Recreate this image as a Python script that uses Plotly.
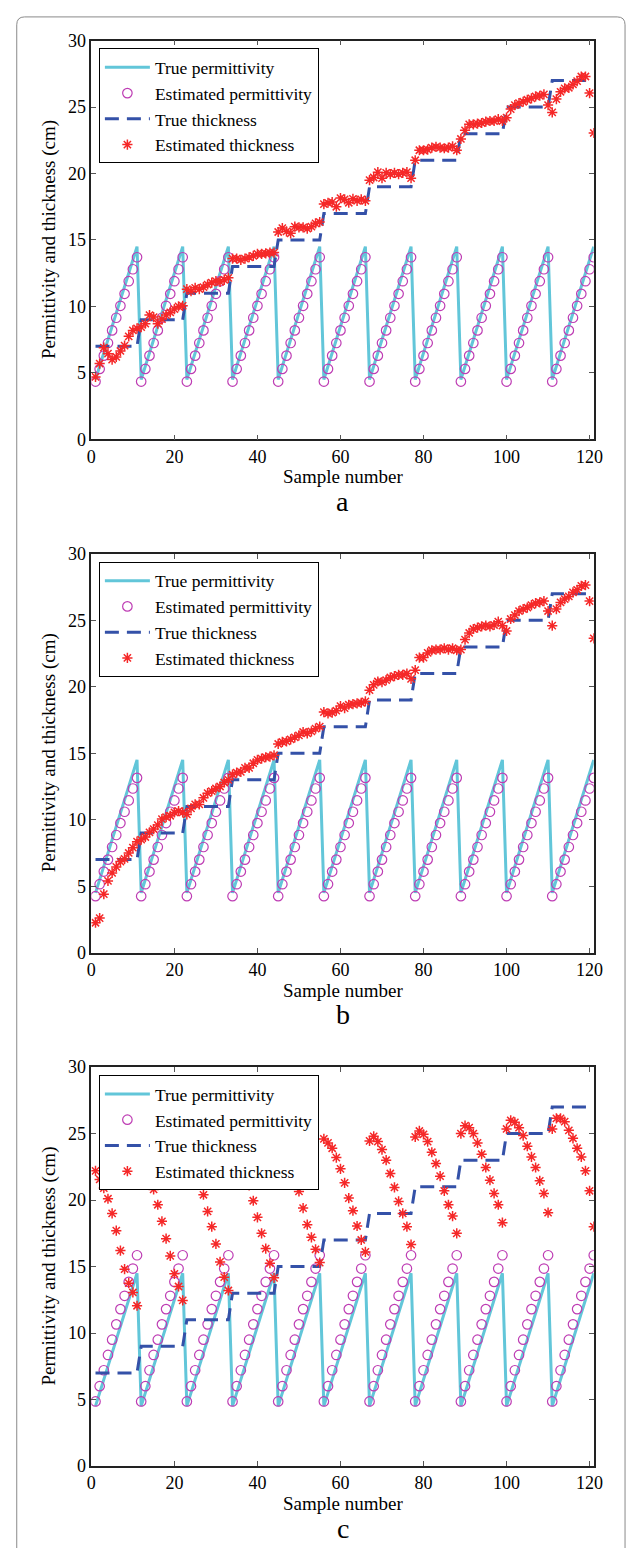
import plotly.graph_objects as go

# sample index
sample = list(range(1, 122))

# one 11-sample cycle of the true permittivity sawtooth
true_perm_cycle = [4.5, 5.5, 6.5, 7.5, 8.5, 9.5, 10.5, 11.5, 12.5, 13.5, 14.5]
# one cycle of estimated permittivity in each panel
est_perm_a_cycle = [4.35, 5.3, 6.3, 7.25, 8.2, 9.15, 10.05, 10.95, 11.9, 12.8, 13.7]
est_perm_b_cycle = [4.25, 5.15, 6.1, 7.0, 7.95, 8.85, 9.75, 10.6, 11.45, 12.35, 13.15]
est_perm_c_cycle = [4.85, 6.0, 7.2, 8.35, 9.5, 10.65, 11.8, 12.8, 13.85, 14.85, 15.85]
# true thickness for each block of 11 samples
thick_levels = [7, 9, 11, 13, 15, 17, 19, 21, 23, 25, 27]

est_thick_a = [
    4.7, 5.7, 6.9, 6.45, 6.0, 6.2, 6.65, 7.05, 7.75, 8.2, 8.35,
    8.45, 8.7, 9.35, 9.2, 8.7, 9.05, 9.35, 9.55, 9.8, 10.0, 10.05,
    11.3, 11.15, 11.4, 11.3, 11.45, 11.65, 11.8, 11.9, 11.85, 12.0, 12.15,
    13.6, 13.6, 13.5, 13.6, 13.7, 13.8, 13.95, 13.95, 14.0, 14.05, 14.05,
    15.6, 15.9, 15.65, 15.5, 16.0, 15.95, 15.95, 15.85, 16.0, 16.25, 16.35,
    17.7, 17.8, 17.85, 17.5, 18.15, 18.05, 17.8, 18.1, 17.95, 18.05, 17.95,
    19.5, 19.7, 20.1, 19.65, 20.05, 19.95, 20.05, 19.95, 20.05, 20.1, 19.65,
    21.0, 21.75, 21.75, 21.8, 21.95, 22.0, 21.95, 21.9, 21.95, 22.05, 21.75,
    22.6, 23.25, 23.7, 23.7, 23.75, 23.8, 23.9, 23.95, 23.95, 24.1, 23.95,
    24.2, 24.85, 25.15, 25.3, 25.4, 25.55, 25.65, 25.8, 25.85, 25.95, 25.15,
    24.6, 25.6, 26.15, 26.4, 26.45, 26.7, 26.95, 27.3, 27.3, 26.05, 23.05,
]
est_thick_b = [
    2.25, 2.6, 4.4, 5.4, 6.0, 6.45, 6.85, 7.05, 7.5, 7.9, 8.35,
    8.5, 8.7, 9.05, 9.3, 9.6, 10.05, 10.2, 10.3, 10.55, 10.65, 10.55,
    10.4, 10.85, 11.15, 11.15, 11.65, 12.0, 12.15, 12.35, 12.5, 12.8, 13.0,
    13.4, 13.55, 13.6, 13.9, 13.9, 14.25, 14.5, 14.6, 14.7, 14.75, 14.85,
    15.7, 15.85, 15.9, 16.05, 16.2, 16.35, 16.6, 16.5, 16.65, 16.85, 17.0,
    18.1, 18.0, 18.05, 18.2, 18.55, 18.4, 18.65, 18.7, 18.75, 18.8, 18.9,
    19.75, 20.15, 20.4, 20.35, 20.5, 20.7, 20.8, 20.9, 20.9, 21.0, 20.6,
    21.25, 22.2, 22.2, 22.55, 22.75, 22.8, 22.8, 22.9, 22.8, 22.9, 22.75,
    22.8, 23.55, 24.05, 24.35, 24.45, 24.55, 24.6, 24.55, 24.65, 24.9, 24.6,
    24.2, 25.1, 25.4, 25.7, 25.85, 25.95, 26.15, 26.3, 26.35, 26.45, 25.7,
    24.6, 25.85, 26.35, 26.6, 26.8, 27.1, 27.3, 27.6, 27.65, 26.45, 23.65,
]
est_thick_c = [
    22.2, 21.55, 20.9, 20.1, 19.0, 17.7, 16.2, 14.8, 13.75, 13.05, 12.05,
    23.3, 22.6, 21.75, 20.8, 19.65, 18.4, 17.1, 15.8, 14.45, 13.5, 12.45,
    24.0, 23.4, 22.5, 21.45, 20.4, 19.15, 18.0, 16.7, 15.35, 14.2, 13.2,
    24.2, 23.6, 22.8, 22.0, 21.1, 19.95, 18.7, 17.5, 16.35, 15.25, 14.15,
    24.4, 24.0, 23.3, 22.6, 21.8, 20.65, 19.4, 18.15, 17.2, 16.3, 15.3,
    24.6, 24.3, 23.9, 23.2, 22.35, 21.3, 20.15, 19.2, 18.05, 17.0, 16.1,
    24.45, 24.8, 24.4, 23.8, 23.0, 22.0, 20.95, 19.9, 19.0, 18.0, 16.65,
    24.75, 25.2, 24.95, 24.4, 23.6, 22.75, 21.8, 20.7, 19.65, 18.8, 17.5,
    25.0, 25.6, 25.45, 25.0, 24.3, 23.45, 22.45, 21.5, 20.5, 19.65, 18.3,
    25.35, 26.0, 25.85, 25.45, 24.85, 24.05, 23.25, 22.45, 21.45, 20.5, 19.05,
    25.35, 26.15, 26.15, 25.9, 25.25, 24.65, 23.9, 23.25, 22.2, 20.7, 18.0,
]

panel_letters = ["a", "b", "c"]

true_perm = true_perm_cycle * 11
true_thick = [lv for lv in thick_levels for _ in range(11)]
est_perm = [est_perm_a_cycle * 11, est_perm_b_cycle * 11, est_perm_c_cycle * 11]
est_thick = [est_thick_a, est_thick_b, est_thick_c]

W, H = 636, 1548
FONT = "Liberation Serif, Times New Roman, serif"
# pixel boxes of each axes (top, bottom)
panels_px = [(31, 435), (551, 955), (1071, 1475)]
x_left, x_right = 88.3, 602


def fy(py):
    return 1 - py / H


fig = go.Figure()

for i in range(3):
    sfx = "" if i == 0 else str(i + 1)
    xa, ya = "x" + sfx, "y" + sfx
    leg = "legend" + sfx
    fig.add_trace(go.Scatter(
        x=sample, y=true_perm, mode="lines", name="True permittivity",
        line=dict(color="#62C6D9", width=3), xaxis=xa, yaxis=ya, legend=leg))
    fig.add_trace(go.Scatter(
        x=sample, y=est_perm[i], mode="markers", name="Estimated permittivity",
        marker=dict(symbol="circle-open", size=9.5, color="#BE3DB4",
                    line=dict(width=1.2, color="#BE3DB4")),
        xaxis=xa, yaxis=ya, legend=leg))
    fig.add_trace(go.Scatter(
        x=sample, y=true_thick, mode="lines", name="True thickness",
        line=dict(color="#3451A8", width=3, dash="14px,8px"),
        xaxis=xa, yaxis=ya, legend=leg))
    fig.add_trace(go.Scatter(
        x=sample, y=est_thick[i], mode="markers", name="Estimated thickness",
        marker=dict(symbol="asterisk-open", size=8.5, color="#F52828",
                    line=dict(width=1.5, color="#F52828")),
        xaxis=xa, yaxis=ya, legend=leg))

    top, bot = panels_px[i]
    axis_common = dict(
        showline=True, linecolor="#222", linewidth=1.5, mirror="allticks",
        ticks="inside", ticklen=5, tickcolor="#555", tickwidth=1,
        showgrid=False, zeroline=False,
        tickfont=dict(family=FONT, size=18, color="black"),
    )
    fig.layout["xaxis" + sfx] = dict(
        axis_common, domain=[x_left / W, x_right / W], range=[0, 121],
        tickvals=[0, 20, 40, 60, 80, 100, 120], anchor=ya)
    fig.layout["yaxis" + sfx] = dict(
        axis_common, domain=[fy(bot), fy(top)], range=[0, 30],
        tickvals=[0, 5, 10, 15, 20, 25, 30], anchor=xa)
    fig.layout[leg] = dict(
        x=96 / W, y=fy(top + 8), xanchor="left", yanchor="top",
        bgcolor="white", bordercolor="black", borderwidth=1,
        font=dict(family=FONT, size=17.5, color="black"),
        itemwidth=45, tracegroupgap=0)

    fig.add_annotation(
        x=(x_left + x_right) / 2 / W, y=fy(bot + 38), xref="paper", yref="paper",
        text="Sample number", showarrow=False, yanchor="middle",
        font=dict(family=FONT, size=19, color="black"))
    fig.add_annotation(
        x=45 / W, y=fy((top + bot) / 2), xref="paper", yref="paper",
        text="Permittivity and thickness (cm)", showarrow=False, textangle=-90,
        xanchor="center", yanchor="middle",
        font=dict(family=FONT, size=19, color="black"))
    fig.add_annotation(
        x=(x_left + x_right) / 2 / W, y=fy(bot + 63), xref="paper", yref="paper",
        text=panel_letters[i], showarrow=False, yanchor="middle",
        font=dict(family=FONT, size=28, color="black"))

# rounded outer frame
r = 8
x0, x1, y0, y1 = 12, 634, 7, H + 20
path = (f"M {(x0 + r) / W} {fy(y0)} L {(x1 - r) / W} {fy(y0)} "
        f"Q {x1 / W} {fy(y0)} {x1 / W} {fy(y0 + r)} L {x1 / W} {fy(y1)} "
        f"L {x0 / W} {fy(y1)} L {x0 / W} {fy(y0 + r)} "
        f"Q {x0 / W} {fy(y0)} {(x0 + r) / W} {fy(y0)} Z")
fig.add_shape(type="path", path=path, xref="paper", yref="paper",
              line=dict(color="#8a8a8a", width=1))

fig.update_layout(
    width=W, height=H,
    margin=dict(l=0, r=0, t=0, b=0),
    paper_bgcolor="white", plot_bgcolor="white",
    font=dict(family=FONT, color="black"),
)

fig.write_html("out.html",
               config={"displayModeBar": False},
               post_script="document.body.style.margin='0';"
                           "document.body.style.overflow='hidden';")
